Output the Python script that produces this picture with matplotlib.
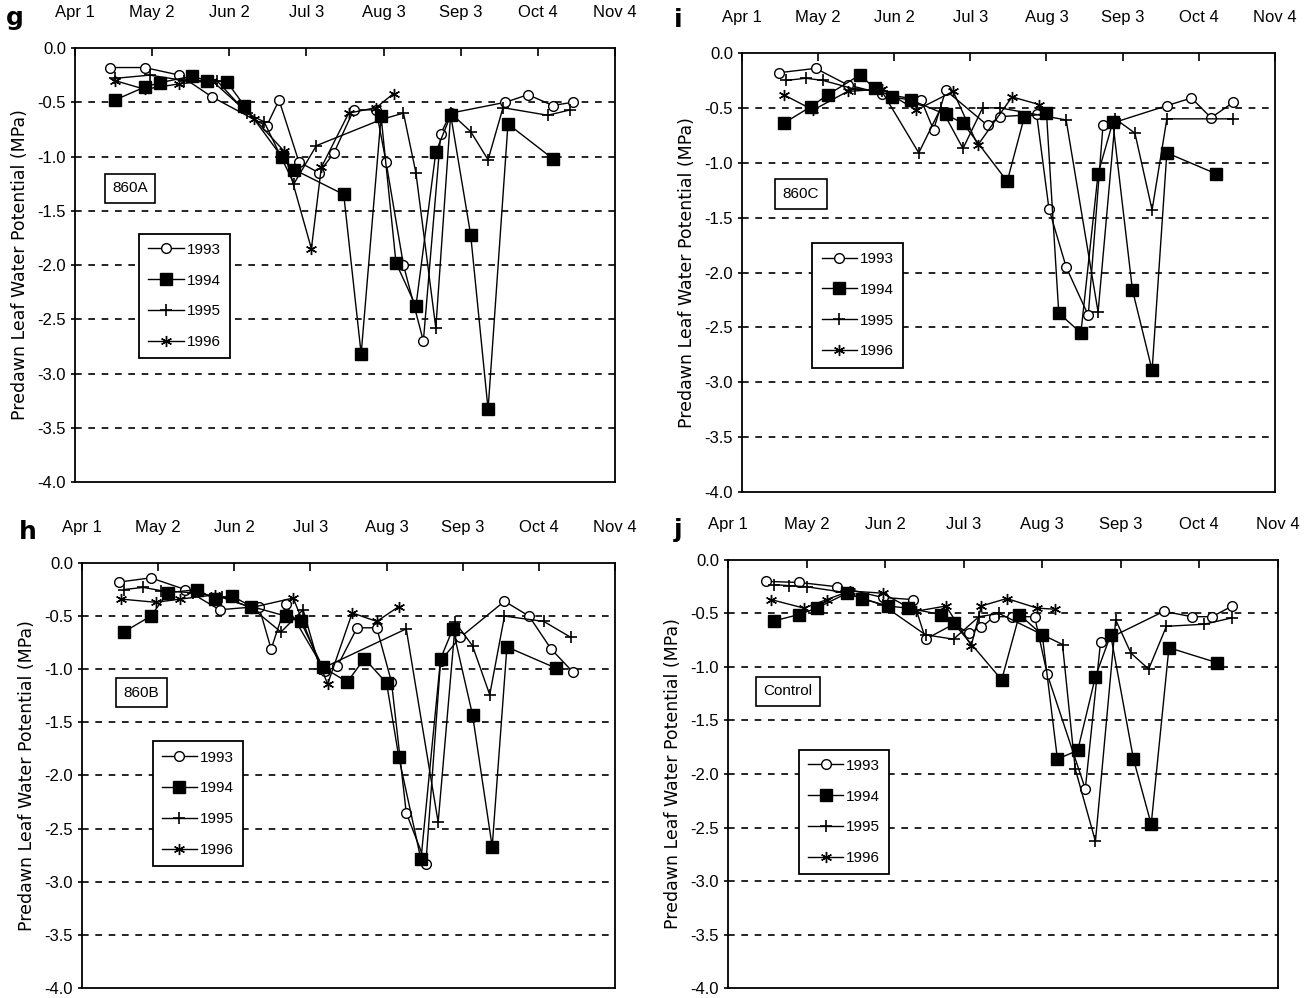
import matplotlib.pyplot as plt

plt.rcParams['font.family'] = ['Liberation Sans Narrow', 'Liberation Sans', 'DejaVu Sans']
plt.rcParams['axes.unicode_minus'] = False

# month ticks on the top axis (day of year)
month_days = [91, 122, 153, 184, 215, 246, 277, 308]
month_labels = ['Apr 1', 'May 2', 'Jun 2', 'Jul 3', 'Aug 3', 'Sep 3', 'Oct 4', 'Nov 4']
years = ['1993', '1994', '1995', '1996']

######### 860A (g) #########
g_1993_days = [105, 119, 133, 146, 168, 173, 181, 189, 195, 203, 212, 216, 223, 231, 238, 242, 264, 273, 283, 291]
g_1993_vals = [-0.18, -0.18, -0.25, -0.45, -0.72, -0.48, -1.05, -1.15, -0.97, -0.57, -0.57, -1.05, -2.0, -2.7, -0.79, -0.6, -0.5, -0.43, -0.53, -0.5]
g_1994_days = [107, 119, 125, 138, 144, 152, 159, 174, 179, 199, 206, 214, 220, 228, 236, 242, 250, 257, 265, 283]
g_1994_vals = [-0.48, -0.36, -0.32, -0.26, -0.3, -0.31, -0.53, -1.0, -1.12, -1.35, -2.82, -0.63, -1.98, -2.38, -0.96, -0.62, -1.72, -3.33, -0.7, -1.02]
g_1995_days = [107, 121, 135, 148, 160, 167, 179, 188, 214, 223, 228, 236, 242, 250, 257, 263, 281, 290]
g_1995_vals = [-0.28, -0.25, -0.3, -0.3, -0.6, -0.68, -1.25, -0.9, -0.66, -0.6, -1.15, -2.58, -0.6, -0.77, -1.03, -0.55, -0.62, -0.57]
g_1996_days = [107, 119, 133, 146, 163, 175, 186, 190, 201, 212, 219]
g_1996_vals = [-0.3, -0.38, -0.33, -0.3, -0.65, -0.95, -1.85, -1.1, -0.6, -0.55, -0.42]

######### 860C (i) #########
i_1993_days = [106, 121, 134, 148, 164, 169, 174, 191, 196, 211, 216, 223, 232, 238, 243, 264, 274, 282, 291]
i_1993_vals = [-0.18, -0.14, -0.29, -0.37, -0.43, -0.7, -0.34, -0.66, -0.58, -0.56, -1.42, -1.95, -2.39, -0.66, -0.63, -0.48, -0.41, -0.59, -0.45]
i_1994_days = [108, 119, 126, 139, 145, 152, 160, 174, 181, 199, 206, 215, 220, 229, 236, 242, 250, 258, 264, 284]
i_1994_vals = [-0.64, -0.49, -0.38, -0.2, -0.32, -0.4, -0.43, -0.56, -0.64, -1.17, -0.58, -0.55, -2.37, -2.55, -1.1, -0.63, -2.16, -2.89, -0.91, -1.1]
i_1995_days = [109, 117, 124, 137, 148, 163, 172, 181, 189, 196, 223, 236, 243, 251, 258, 264, 291]
i_1995_vals = [-0.25, -0.23, -0.25, -0.33, -0.35, -0.91, -0.5, -0.87, -0.5, -0.5, -0.61, -2.36, -0.6, -0.73, -1.43, -0.6, -0.6]
i_1996_days = [108, 120, 134, 148, 162, 177, 187, 201, 212]
i_1996_vals = [-0.38, -0.52, -0.35, -0.33, -0.52, -0.35, -0.84, -0.4, -0.47]

######### 860B (h) #########
h_1993_days = [106, 119, 133, 147, 163, 168, 174, 190, 195, 203, 211, 217, 223, 231, 237, 245, 263, 273, 282, 291]
h_1993_vals = [-0.18, -0.14, -0.25, -0.44, -0.41, -0.81, -0.39, -1.02, -0.97, -0.61, -0.61, -1.12, -2.35, -2.83, -0.92, -0.7, -0.36, -0.5, -0.81, -1.03]
h_1994_days = [108, 119, 126, 138, 145, 152, 160, 174, 180, 189, 199, 206, 215, 220, 229, 237, 242, 250, 258, 264, 284]
h_1994_vals = [-0.65, -0.5, -0.28, -0.25, -0.34, -0.31, -0.41, -0.5, -0.55, -0.98, -1.12, -0.9, -1.13, -1.83, -2.79, -0.9, -0.62, -1.43, -2.67, -0.79, -0.99]
h_1995_days = [108, 116, 123, 136, 148, 160, 172, 181, 188, 223, 236, 243, 250, 257, 263, 279, 290]
h_1995_vals = [-0.25, -0.23, -0.26, -0.28, -0.32, -0.42, -0.65, -0.44, -1.0, -0.62, -2.44, -0.56, -0.78, -1.24, -0.5, -0.55, -0.7]
h_1996_days = [107, 121, 131, 145, 160, 177, 191, 201, 211, 220]
h_1996_vals = [-0.34, -0.37, -0.34, -0.3, -0.42, -0.33, -1.14, -0.47, -0.55, -0.41]

######### Control (j) #########
j_1993_days = [106, 119, 134, 152, 164, 169, 180, 186, 191, 196, 203, 212, 217, 232, 238, 263, 274, 282, 290]
j_1993_vals = [-0.2, -0.21, -0.25, -0.35, -0.37, -0.74, -0.6, -0.68, -0.63, -0.53, -0.53, -0.53, -1.07, -2.14, -0.77, -0.48, -0.53, -0.53, -0.43]
j_1994_days = [109, 119, 126, 138, 144, 154, 162, 175, 180, 199, 206, 215, 221, 229, 236, 242, 251, 258, 265, 284]
j_1994_vals = [-0.57, -0.51, -0.45, -0.31, -0.36, -0.43, -0.45, -0.51, -0.59, -1.12, -0.51, -0.7, -1.86, -1.78, -1.09, -0.7, -1.86, -2.47, -0.82, -0.96]
j_1995_days = [109, 115, 122, 136, 152, 169, 180, 190, 198, 223, 228, 236, 244, 250, 257, 264, 279, 290]
j_1995_vals = [-0.23, -0.24, -0.25, -0.3, -0.42, -0.7, -0.74, -0.53, -0.5, -0.79, -1.95, -2.63, -0.56, -0.87, -1.02, -0.62, -0.6, -0.54]
j_1996_days = [108, 121, 130, 139, 152, 165, 177, 187, 191, 201, 213, 220]
j_1996_vals = [-0.37, -0.45, -0.37, -0.29, -0.31, -0.48, -0.43, -0.8, -0.43, -0.36, -0.45, -0.46]

# marker styles for 1993..1996
styles = [dict(marker='o', ms=7, mfc='white', mec='black'),
          dict(marker='s', ms=9, mfc='black', mec='black'),
          dict(marker='+', ms=9, mew=1.2),
          dict(marker=(6, 2, 0), ms=8, mew=1.0)]


def panel(rect, letter, site, series, site_xy, leg_xy, letter_xy):
    ax = fig.add_axes(rect)
    for (days, vals), st, yr in zip(series, styles, years):
        ax.plot(days, vals, color='black', lw=1, label=yr, **st)
    ax.set_xlim(91, 308)
    ax.set_ylim(-4.0, 0.0)
    ax.set_yticks([0.0, -0.5, -1.0, -1.5, -2.0, -2.5, -3.0, -3.5, -4.0])
    ax.set_yticklabels(['%.1f' % v for v in ax.get_yticks()], fontsize=12)
    for v in [-0.5, -1.0, -1.5, -2.0, -2.5, -3.0, -3.5]:
        ax.axhline(v, color='black', lw=1.2, ls=(0, (4, 4)), zorder=0)
    ax.xaxis.tick_top()
    ax.set_xticks(month_days)
    ax.set_xticklabels(month_labels, fontsize=12)
    ax.tick_params(axis='x', direction='in', length=6, pad=20, width=1.2)
    ax.tick_params(axis='y', direction='out', length=3, width=1.2)
    for s in ax.spines.values():
        s.set_linewidth(1.3)
    ax.set_ylabel('Predawn Leaf Water Potential (MPa)', fontsize=12.5,
                  family='DejaVu Sans', labelpad=6)
    ax.text(site_xy[0], site_xy[1], site, transform=ax.transAxes, fontsize=11,
            ha='center', va='center',
            bbox=dict(boxstyle='square,pad=0.5', fc='white', ec='black', lw=1.2))
    leg = ax.legend(loc='upper left', bbox_to_anchor=leg_xy, fontsize=11,
                    labelspacing=1.1, handlelength=2.3, handletextpad=0.2,
                    borderpad=0.6, fancybox=False, framealpha=1, edgecolor='black')
    leg.get_frame().set_linewidth(1.3)
    fig.text(letter_xy[0], letter_xy[1], letter, fontsize=18,
             fontweight='bold', family='DejaVu Sans', va='center', ha='center')
    return ax


fig = plt.figure(figsize=(13.06, 9.98), dpi=100)

panel([0.0574, 0.517, 0.4135, 0.4349], 'g', '860A',
      [(g_1993_days, g_1993_vals), (g_1994_days, g_1994_vals),
       (g_1995_days, g_1995_vals), (g_1996_days, g_1996_vals)],
      (0.102, 0.677), (0.105, 0.59), (0.011, 0.982))
panel([0.5681, 0.507, 0.4081, 0.4399], 'i', '860C',
      [(i_1993_days, i_1993_vals), (i_1994_days, i_1994_vals),
       (i_1995_days, i_1995_vals), (i_1996_days, i_1996_vals)],
      (0.111, 0.679), (0.118, 0.585), (0.519, 0.980))
panel([0.0628, 0.010, 0.4081, 0.4259], 'h', '860B',
      [(h_1993_days, h_1993_vals), (h_1994_days, h_1994_vals),
       (h_1995_days, h_1995_vals), (h_1996_days, h_1996_vals)],
      (0.111, 0.695), (0.118, 0.598), (0.021, 0.467))
panel([0.5574, 0.010, 0.4211, 0.4289], 'j', 'Control',
      [(j_1993_days, j_1993_vals), (j_1994_days, j_1994_vals),
       (j_1995_days, j_1995_vals), (j_1996_days, j_1996_vals)],
      (0.109, 0.693), (0.115, 0.575), (0.519, 0.469))

fig.savefig('out.png', dpi=100)
